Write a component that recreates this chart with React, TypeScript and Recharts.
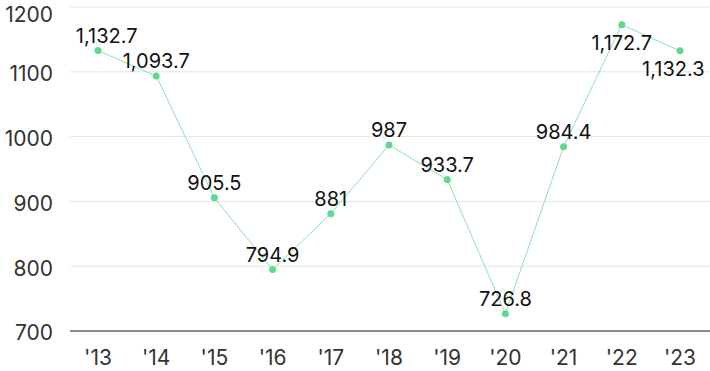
import { LineChart, Line, XAxis, YAxis, CartesianGrid, LabelList } from 'recharts';

const years = ["'13", "'14", "'15", "'16", "'17", "'18", "'19", "'20", "'21", "'22", "'23"];
const values = [1132.7, 1093.7, 905.5, 794.9, 881, 987, 933.7, 726.8, 984.4, 1172.7, 1132.3];
const yTicks = [700, 800, 900, 1000, 1100, 1200];

const data = years.map((year, i) => ({ year, value: values[i] }));

// labels drawn under the dot instead of above
const below = new Set([9, 10]);

const font = 'Inter, "Noto Sans", sans-serif';
const W = 710;
const PLOT_LEFT = 70;

function PointLabel(props: any) {
  const { x, y, value, index } = props;
  const dy = below.has(index) ? 25 : -8;
  const text = Number(value).toLocaleString('en-US');
  // keep the label inside the plot area
  const half = text.length * 5.1;
  const cx = Math.max(PLOT_LEFT + half + 1, Math.min(x, W - half - 1));
  return (
    <text x={cx} y={y + dy} textAnchor="middle" fontSize={20} fill="#111" fontFamily={font}>
      {text}
    </text>
  );
}

export default function App() {
  return (
    <div style={{ position: 'fixed', left: 0, top: 0, width: W, height: 371, background: '#fff' }}>
      <LineChart width={W} height={371} data={data} margin={{ top: 7, right: 0, bottom: 0, left: 0 }}>
        <CartesianGrid vertical={false} stroke="#e6e6e6" />
        <XAxis
          dataKey="year"
          tickLine={false}
          axisLine={{ stroke: '#222' }}
          height={40}
          padding={{ left: 28, right: 30 }}
          tickMargin={13}
          tick={{ fontSize: 21, fill: '#333', fontFamily: font }}
        />
        <YAxis
          domain={[700, 1200]}
          ticks={yTicks}
          tickLine={false}
          axisLine={false}
          width={PLOT_LEFT}
          tickMargin={11}
          tick={{ fontSize: 21, fill: '#333', fontFamily: font, dy: 2 }}
        />
        <Line
          type="linear"
          dataKey="value"
          stroke="#8ce3ae"
          strokeWidth={1}
          dot={{ r: 3.5, fill: '#5fd98f', stroke: '#5fd98f', strokeWidth: 0 }}
          isAnimationActive={false}
        >
          <LabelList dataKey="value" content={PointLabel} />
        </Line>
      </LineChart>
    </div>
  );
}
